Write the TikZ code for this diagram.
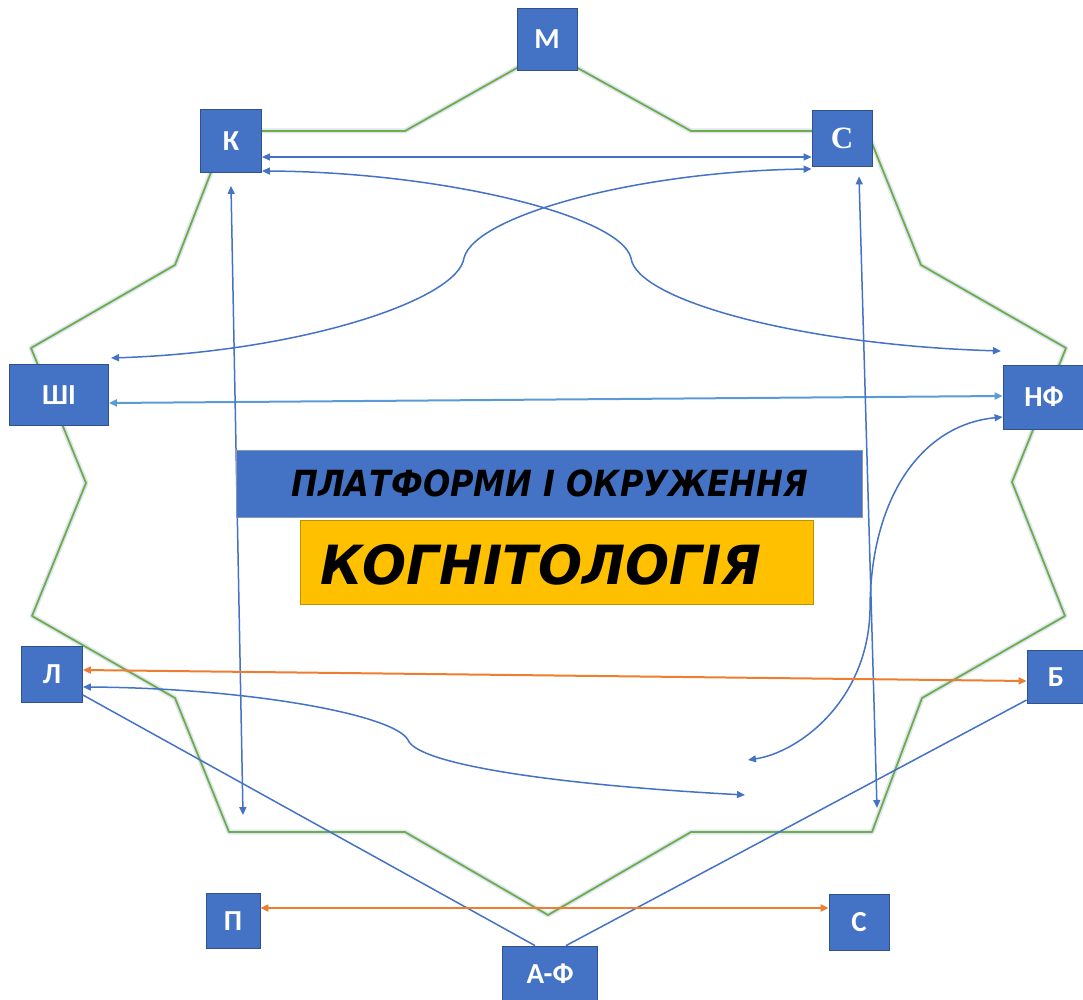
\documentclass[tikz,border=0pt]{standalone}
\usepackage{fontspec}
\setmainfont{Carlito}
\newfontfamily\headfont{DejaVu Sans}
\newfontfamily\serifbox{Liberation Serif}
\usetikzlibrary{arrows.meta}

\definecolor{boxblue}{RGB}{68,114,196}
\definecolor{boxedge}{RGB}{47,82,143}
\definecolor{lineblue}{RGB}{68,114,196}
\definecolor{lightblue}{RGB}{91,155,213}
\definecolor{linkorange}{RGB}{237,125,49}
\definecolor{ringgreen}{RGB}{112,173,71}
\definecolor{kogyellow}{RGB}{255,192,0}
\definecolor{kogedge}{RGB}{191,144,0}

\tikzset{
  letterbox/.style={draw=boxedge, line width=0.8pt, fill=boxblue, text=white, inner sep=0pt,
    font=\bfseries\fontsize{29}{29}\selectfont},
  link/.style={draw=lineblue, line width=1.5pt, {Triangle[length=8pt,width=7pt]}-{Triangle[length=8pt,width=7pt]}},
  plainlink/.style={draw=lineblue, line width=1.5pt},
  widelink/.style={draw=lightblue, line width=2pt, {Triangle[length=8pt,width=7pt]}-{Triangle[length=8pt,width=7pt]}},
  orangelink/.style={draw=linkorange, line width=2pt, {Triangle[length=8pt,width=7pt]}-{Triangle[length=8pt,width=7pt]}}
}

\begin{document}
\begin{tikzpicture}[x=1pt,y=1pt,yscale=-1]
\useasboundingbox (0,0) rectangle (1083,1000);

% ring
\draw [boxblue!18, line width=5pt, line join=round] (547,51) -- (691,131) -- (867,131) -- (921,265) -- (1066,348) -- (1012,482) -- (1065,616) -- (922,698) -- (872,832) -- (691,832) -- (548,915) -- (405,832) -- (229,832) -- (175,698) -- (32,616) -- (86,483) -- (31,348) -- (175,265) -- (227,131) -- (405,131) -- cycle;
\draw [ringgreen, line width=1.8pt, line join=round] (547,51) -- (691,131) -- (867,131) -- (921,265) -- (1066,348) -- (1012,482) -- (1065,616) -- (922,698) -- (872,832) -- (691,832) -- (548,915) -- (405,832) -- (229,832) -- (175,698) -- (32,616) -- (86,483) -- (31,348) -- (175,265) -- (227,131) -- (405,131) -- cycle;

\node [letterbox, minimum width=60pt, minimum height=62pt] (M) at (547,39) {М};
\node [letterbox, minimum width=61pt, minimum height=63pt] (K) at (231,141) {К};
\node [letterbox, minimum width=60pt, minimum height=56pt, font=\serifbox\bfseries\fontsize{31}{31}\selectfont] (Ct) at (842,138) {С};
\node [letterbox, minimum width=99pt, minimum height=61pt] (SHI) at (59,395) {ШІ};
\node [letterbox, minimum width=82pt, minimum height=64pt] (NF) at (1044,397) {НФ};
\node [letterbox, minimum width=61pt, minimum height=56pt] (L) at (52,674) {Л};
\node [letterbox, minimum width=58pt, minimum height=53pt] (B) at (1056,677) {Б};
\node [letterbox, minimum width=54pt, minimum height=55pt] (P) at (233,921) {П};
\node [letterbox, minimum width=60pt, minimum height=56pt] (Cb) at (859,922) {С};
\node [letterbox, minimum width=95pt, minimum height=56pt] (AF) at (550,974) {А-Ф};

\coordinate (nfa) at (1001,351);
\coordinate (shia) at (111,358);
\coordinate (kd) at (243,815);
\coordinate (cd) at (877,808);
\coordinate (nfb) at (748,760);
\coordinate (lb) at (745,795);

% links
\draw [link] ([yshift=16pt]K.east) -- ([yshift=19pt]Ct.west);
\draw [link] ([yshift=30pt]K.east) .. controls (440,172) and (620,215) .. (631,258) .. controls (636,300) and (800,345) .. (nfa);
\draw [link] ([yshift=31pt]Ct.west) .. controls (640,171) and (475,215) .. (464,258) .. controls (458,300) and (300,352) .. (shia);
\draw [widelink] ([yshift=8pt]SHI.east) -- ([yshift=-1pt]NF.west);
\draw [link] ([yshift=13pt]K.south) -- (kd);
\draw [link] ([xshift=17pt,yshift=10pt]Ct.south) -- (cd);
\draw [link] ([yshift=20pt]NF.west) .. controls (920,425) and (870,500) .. (870,610) .. controls (868,700) and (800,752) .. (nfb);
\draw [link] ([yshift=13pt]L.east) .. controls (250,688) and (395,715) .. (408,740) .. controls (418,765) and (560,785) .. (lb);
\draw [orangelink] ([yshift=-4pt]L.east) -- ([yshift=4pt]B.west);
\draw [plainlink] ([yshift=21pt]L.east) -- ([xshift=-15pt]AF.north);
\draw [plainlink] ([yshift=23pt]B.west) -- ([xshift=16pt]AF.north);
\draw [orangelink] ([yshift=-13pt]P.east) -- ([yshift=-14pt]Cb.west);

% centre
\node [draw=boxedge!60, line width=0.8pt, fill=boxblue, minimum width=626pt, minimum height=67pt, inner sep=0pt,
  font=\headfont\bfseries\itshape\fontsize{36}{36}\selectfont] (plat) at (549.5,483.5) {\scalebox{0.89}[1]{ПЛАТФОРМИ І ОКРУЖЕННЯ}};
\node [draw=kogedge, line width=0.8pt, fill=kogyellow, minimum width=513pt, minimum height=84pt, inner sep=0pt] (kog) at (556.5,562) {};
\node [inner sep=0pt, font=\headfont\bfseries\itshape\fontsize{54}{54}\selectfont] (kogtext) at (541,565) {\scalebox{0.96}[1]{КОГНІТОЛОГІЯ}};

\end{tikzpicture}
\end{document}
